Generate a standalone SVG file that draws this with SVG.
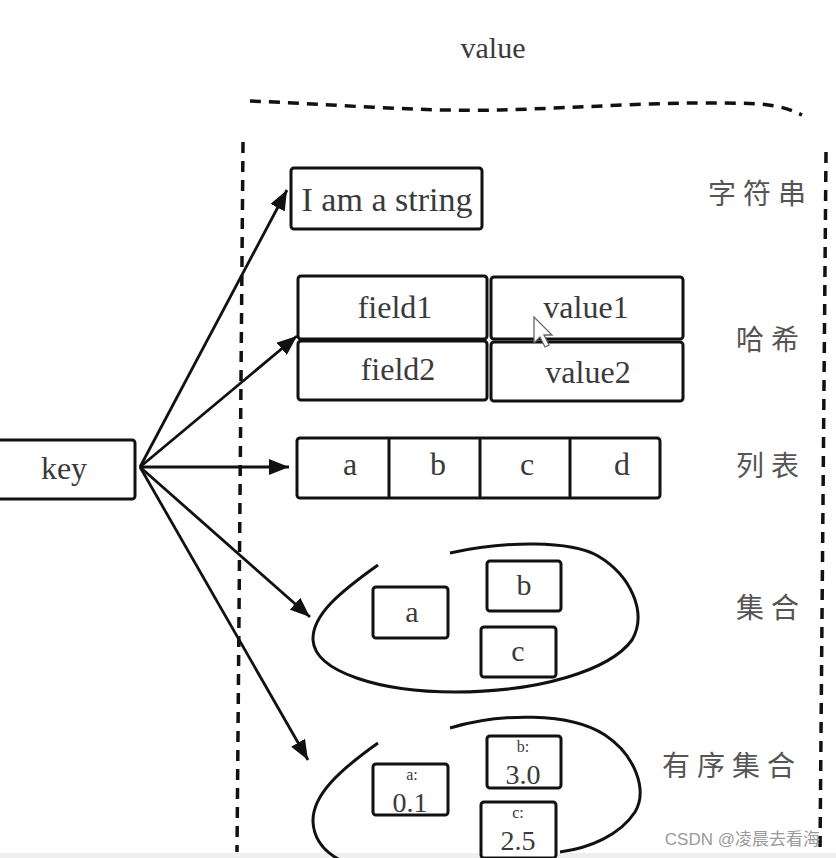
<svg xmlns="http://www.w3.org/2000/svg" width="836" height="858" viewBox="0 0 836 858">
<style>
  .box{fill:#fff;stroke:#111;stroke-width:3;rx:3}
  .t{font-family:"Liberation Serif","DejaVu Serif",serif;fill:#3a3a3a;text-anchor:middle}
  .cn{font-family:"Noto Sans CJK SC","Noto Sans CJK JP",sans-serif;fill:#555;font-size:28px;letter-spacing:7px}
  .dash{fill:none;stroke:#111;stroke-width:3.5;stroke-dasharray:11 8}
  .conn{stroke:#111;stroke-width:2.8;fill:none;marker-end:url(#ah)}
  .loop{fill:none;stroke:#111;stroke-width:3}
</style>
<defs>
  <marker id="ah" markerUnits="userSpaceOnUse" markerWidth="22" markerHeight="16" refX="20" refY="8" orient="auto">
    <path d="M0,0 L20,8 L0,16 Z" fill="#111"/>
  </marker>
</defs>
<rect width="836" height="858" fill="#fff"/>
<rect x="0" y="853" width="836" height="5" fill="#efefef"/>

<g id="value-frame">
  <text class="t" x="493" y="58" font-size="30">value</text>
  <path class="dash" d="M250,101 C330,104 420,112 500,110 C580,108 680,100 760,104 C780,106 790,109 802,115"/>
  <path class="dash" d="M243,142 L237,852"/>
  <path class="dash" d="M826,152 L820,852"/>
</g>

<g id="key">
  <rect class="box" x="-4" y="440" width="139" height="59"/>
  <text class="t" x="64" y="479" font-size="32">key</text>
</g>

<g id="connectors">
  <line class="conn" x1="140" y1="467" x2="287" y2="190"/>
  <line class="conn" x1="140" y1="467" x2="297" y2="336"/>
  <line class="conn" x1="140" y1="467" x2="289" y2="467"/>
  <line class="conn" x1="140" y1="467" x2="310" y2="617"/>
  <line class="conn" x1="140" y1="467" x2="308" y2="760"/>
</g>

<g id="string">
  <rect class="box" x="291" y="168" width="191" height="61"/>
  <text class="t" x="387" y="211" font-size="34">I am a string</text>
  <text class="cn" x="708" y="204">字符串</text>
</g>

<g id="hash">
  <rect class="box" x="298" y="276" width="189" height="63"/>
  <rect class="box" x="491" y="277" width="192" height="62"/>
  <rect class="box" x="298" y="341" width="189" height="59"/>
  <rect class="box" x="491" y="342" width="192" height="59"/>
  <text class="t" x="395" y="318" font-size="32">field1</text>
  <text class="t" x="586" y="318" font-size="32">value1</text>
  <text class="t" x="398" y="380" font-size="32">field2</text>
  <text class="t" x="588" y="383" font-size="32">value2</text>
  <path d="M534,317 L534,343 L540,337 L545,347 L549,345 L544,335 L552,335 Z" fill="#fff" stroke="#666" stroke-width="1.3"/>
  <text class="cn" x="736" y="350">哈希</text>
</g>

<g id="list">
  <rect class="box" x="297" y="438" width="363" height="60"/>
  <line x1="389" y1="438" x2="389" y2="498" stroke="#111" stroke-width="3"/>
  <line x1="480" y1="438" x2="480" y2="498" stroke="#111" stroke-width="3"/>
  <line x1="570" y1="438" x2="570" y2="498" stroke="#111" stroke-width="3"/>
  <text class="t" x="350" y="475" font-size="32">a</text>
  <text class="t" x="438" y="475" font-size="32">b</text>
  <text class="t" x="527" y="475" font-size="32">c</text>
  <text class="t" x="622" y="475" font-size="32">d</text>
  <text class="cn" x="736" y="476">列表</text>
</g>

<g id="set">
  <path class="loop" d="M378,565 C340,592 312,615 313,640 C315,672 380,692 455,692 C540,692 610,670 632,640 C648,612 630,575 598,556 C570,540 505,541 450,553"/>
  <rect class="box" x="373" y="587" width="75" height="51"/>
  <rect class="box" x="487" y="561" width="74" height="50"/>
  <rect class="box" x="481" y="627" width="75" height="50"/>
  <text class="t" x="412" y="622" font-size="30">a</text>
  <text class="t" x="524" y="595" font-size="30">b</text>
  <text class="t" x="518" y="661" font-size="30">c</text>
  <text class="cn" x="736" y="618">集合</text>
</g>

<g id="zset">
  <path class="loop" d="M378,743 C340,770 312,795 313,822 C314,840 325,852 340,860"/>
  <path class="loop" d="M450,728 C500,713 570,712 605,735 C635,755 648,790 635,812 C620,835 590,848 560,852"/>
  <rect class="box" x="373" y="764" width="75" height="51"/>
  <rect class="box" x="487" y="736" width="74" height="52"/>
  <rect class="box" x="481" y="802" width="75" height="56"/>
  <text class="t" x="412" y="780" font-size="16">a:</text>
  <text class="t" x="410" y="812" font-size="28">0.1</text>
  <text class="t" x="523" y="752" font-size="16">b:</text>
  <text class="t" x="523" y="784" font-size="28">3.0</text>
  <text class="t" x="518" y="818" font-size="16">c:</text>
  <text class="t" x="518" y="850" font-size="28">2.5</text>
  <text class="cn" x="662" y="776">有序集合</text>
</g>

<text x="820" y="845" text-anchor="end" font-family="Liberation Sans,Noto Sans CJK SC,sans-serif" font-size="17" fill="#9a9a9a">CSDN @凌晨去看海</text>
</svg>
